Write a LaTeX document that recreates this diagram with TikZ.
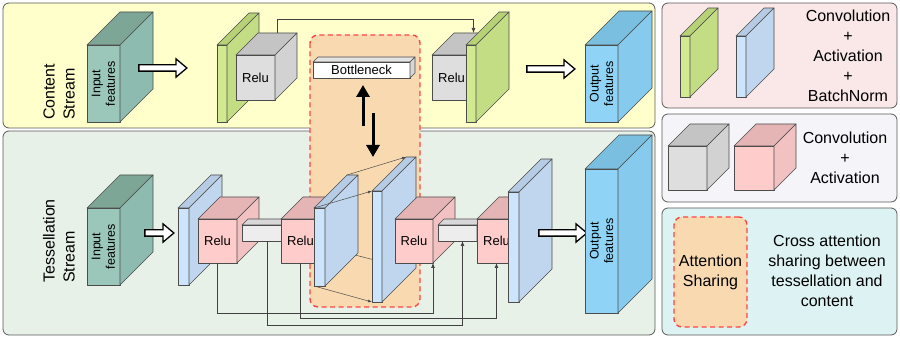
\documentclass[tikz,border=0pt]{standalone}
\usepackage{fontspec}
\setmainfont{Liberation Sans}
\usetikzlibrary{arrows.meta,shapes.arrows}

\definecolor{contentbg}{HTML}{FFFFCC}
\definecolor{tessbg}{HTML}{E8F1E7}
\definecolor{keyabg}{HTML}{FAE7E7}
\definecolor{keybbg}{HTML}{F4F4F9}
\definecolor{keycbg}{HTML}{DDF2F2}
\definecolor{attnfill}{HTML}{F9DAB0}
\definecolor{attnred}{HTML}{FF4646}
\definecolor{tealfront}{HTML}{9BC6BA}
\definecolor{tealtop}{HTML}{7EA697}
\definecolor{tealside}{HTML}{8EBBAF}
\definecolor{greenfront}{HTML}{D1E98F}
\definecolor{greentop}{HTML}{B6D176}
\definecolor{greenside}{HTML}{C3DD84}
\definecolor{grayfront}{HTML}{DEDEDE}
\definecolor{graytop}{HTML}{C4C4C4}
\definecolor{grayside}{HTML}{D2D2D2}
\definecolor{pinkfront}{HTML}{FFCCCC}
\definecolor{pinktop}{HTML}{E5B4B4}
\definecolor{pinkside}{HTML}{F2C1C1}
\definecolor{bluefront}{HTML}{CCE4FC}
\definecolor{bluetop}{HTML}{B5CCE4}
\definecolor{blueside}{HTML}{BFD6EE}
\definecolor{skyfront}{HTML}{8FD4F6}
\definecolor{skytop}{HTML}{7ABFE0}
\definecolor{skyside}{HTML}{86CBEE}
\definecolor{bnfront}{HTML}{FFFFFF}
\definecolor{bntop}{HTML}{E3E3E3}
\definecolor{bnside}{HTML}{D6D6D6}
\definecolor{barfront}{HTML}{EDEDED}
\definecolor{bartop}{HTML}{D8D8D8}
\definecolor{barside}{HTML}{CCCCCC}

\pgfdeclarelayer{panels}
\pgfdeclarelayer{lines}
\pgfsetlayers{panels,lines,main}

\tikzset{
  face/.style={draw=black!70, line width=0.6pt, inner sep=0pt, outer sep=0pt, line join=round, font=\fontsize{13}{15}\selectfont},
  panel/.style={draw=black!65, line width=0.8pt, rounded corners=6pt},
  attn/.style={draw=attnred, fill=attnfill, line width=1.4pt, dash pattern=on 5pt off 3.5pt, rounded corners=8pt},
  fatarrow/.style={single arrow, draw=black, fill=white, line width=1.3pt, minimum height=#1, minimum width=18pt, inner xsep=0pt, inner ysep=2.5pt, single arrow head extend=6pt, single arrow tip angle=80},
  fatarrow/.default=48pt,
  heavy/.style={line width=3pt, -{Triangle[length=12pt,width=13pt]}},
  skip/.style={draw=black!75, line width=0.7pt, -{Latex[length=5pt,width=4pt]}},
  proj/.style={draw=black!70, line width=0.5pt, -{Latex[length=4pt,width=3pt]}},
  lbl/.style={font=\fontsize{12.5}{14.5}\selectfont, align=center, inner sep=0pt},
  key/.style={font=\fontsize{16}{20}\selectfont, align=center},
  stream/.style={font=\fontsize{16}{20}\selectfont, align=left, rotate=90, anchor=west, inner sep=0pt}
}

% #1 name, #2 #3 front top-left, #4 width, #5 height, #6 depth, #7 colour, #8 text
\newcommand{\cuboid}[8]{%
  \node[face, fill=#7front, minimum width=#4pt, minimum height=#5pt, anchor=north west] (#1) at (#2,#3) {#8};
  \filldraw[face, fill=#7top] (#1.north west) -- ++(#6,-#6) -- ++(#4,0) -- (#1.north east) -- cycle;
  \filldraw[face, fill=#7side] (#1.north east) -- ++(#6,-#6) -- ++(0,#5) -- (#1.south east) -- cycle;
  \coordinate (#1-top) at ([xshift=#6pt,yshift=#6pt]#1.north);
  \coordinate (#1-back) at ([xshift=#6pt,yshift=#6pt]#1.north west);
  \coordinate (#1-backlow) at ([xshift=#6pt,yshift=#6pt]#1.south west);
}

\begin{document}
\begin{tikzpicture}[x=1pt,y=-1pt]
\useasboundingbox (0,0) rectangle (900,339);

%panels
\begin{pgfonlayer}{panels}
\draw[panel, fill=contentbg] (3,3) rectangle (655,128);
\draw[panel, fill=tessbg] (3,131) rectangle (655,335);
\draw[panel, fill=keyabg] (662,3) rectangle (897,108);
\draw[panel, fill=keybbg] (662,114) rectangle (897,202);
\draw[panel, fill=keycbg] (662,208) rectangle (897,335);
\draw[attn] (310,35) rectangle (420,307);
\end{pgfonlayer}

\node[stream] (cslbl) at (59,120) {Content\\Stream};
\node[stream] (tslbl) at (59,283) {Tessellation\\Stream};

%content stream
\cuboid{cin}{87}{45}{33}{77}{33}{teal}{}
\node[lbl, rotate=90] (cinlbl) at (cin.center) {Input\\features};
\node[fatarrow] (cfa1) at (161,68) {};
\cuboid{cgl}{217}{45}{10}{77}{32}{green}{}
\cuboid{creluL}{236}{55}{39}{45}{22}{gray}{Relu}
\cuboid{bneck}{313}{62}{97}{16}{5}{bn}{Bottleneck}
\cuboid{creluR}{432}{55}{39}{45}{22}{gray}{Relu}
\draw[skip] (creluL-top) -- ++(0,-14) -| (creluR-top);
\cuboid{cgr}{466}{45}{10}{77}{33}{green}{}
\node[fatarrow] (cfa2) at (549,69) {};
\cuboid{cout}{585}{45}{33}{77}{34}{sky}{}
\node[lbl, rotate=90] (coutlbl) at (cout.center) {Output\\features};

%tessellation stream
\cuboid{tin}{87}{208}{33}{77}{33}{teal}{}
\node[lbl, rotate=90] (tinlbl) at (tin.center) {Input\\features};
\node[fatarrow=29pt] (tfa1) at (157.5,233) {};
\cuboid{tb1}{178}{208}{11}{77}{33}{blue}{}
\cuboid{relu1}{198}{219}{39}{44}{22}{pink}{Relu}
\cuboid{bar1}{242}{225}{40}{16}{6}{bar}{}
\cuboid{relu2}{281}{219}{39}{44}{22}{pink}{Relu}
\cuboid{slabA}{314}{208}{11}{78}{33}{blue}{}
\cuboid{slabB}{372}{191}{10}{111}{34}{blue}{}
\begin{pgfonlayer}{lines}
\draw[proj, -] (slabA-backlow) -- (slabB-backlow);
\end{pgfonlayer}
\draw[proj] (slabA-back) -- (slabB-back);
\draw[proj] (slabA.north west) -- (slabB.north west);
\draw[proj] (slabA.south west) -- (slabB.south west);
\cuboid{relu3}{395}{219}{38}{44}{22}{pink}{Relu}
\cuboid{bar2}{438}{225}{39}{16}{6}{bar}{}
\cuboid{relu4}{477}{219}{39}{44}{22}{pink}{Relu}
\cuboid{tb2}{508}{192}{11}{110}{33}{blue}{}
\node[fatarrow] (tfa2) at (561,233) {};
\cuboid{tout}{585}{169}{33}{144}{34}{sky}{}
\node[lbl, rotate=90] (toutlbl) at (tout.center) {Output\\features};

%skip connections
\draw[skip] (relu1.south) -- ++(0,50) -| (relu3.south east);
\draw[skip] ([xshift=5pt]bar1.south) -- ++(0,84) -| ([xshift=5pt]bar2.south);
\draw[skip] (relu2.south) -- ++(0,55) -| (relu4.south);

%attention sharing
\coordinate (upfoot) at (363,126);
\coordinate (dnfrom) at (373,113);
\coordinate (dnto) at (373,157);
\draw[heavy, shorten >=7pt] (upfoot) -- (upfoot |- bneck.south);
\draw[heavy] (dnfrom) -- (dnto);

%legend
\cuboid{kgreen}{680}{36}{10}{61}{28}{green}{}
\cuboid{kblue}{736}{36}{10}{61}{28}{blue}{}
\node[key] (katxt) at (848,56) {Convolution\\+\\Activation\\+\\BatchNorm};
\cuboid{kgray}{668}{146}{39}{44}{22}{gray}{}
\cuboid{kpink}{734}{146}{40}{44}{22}{pink}{}
\node[key] (kbtxt) at (845,158) {Convolution\\+\\Activation};
\node[attn, key, minimum width=73pt, minimum height=110pt, inner sep=0pt] (kcbox) at (710.5,272) {Attention\\Sharing};
\node[key] (kctxt) at (827,271) {Cross attention\\sharing between\\tessellation and\\content};
\end{tikzpicture}
\end{document}
